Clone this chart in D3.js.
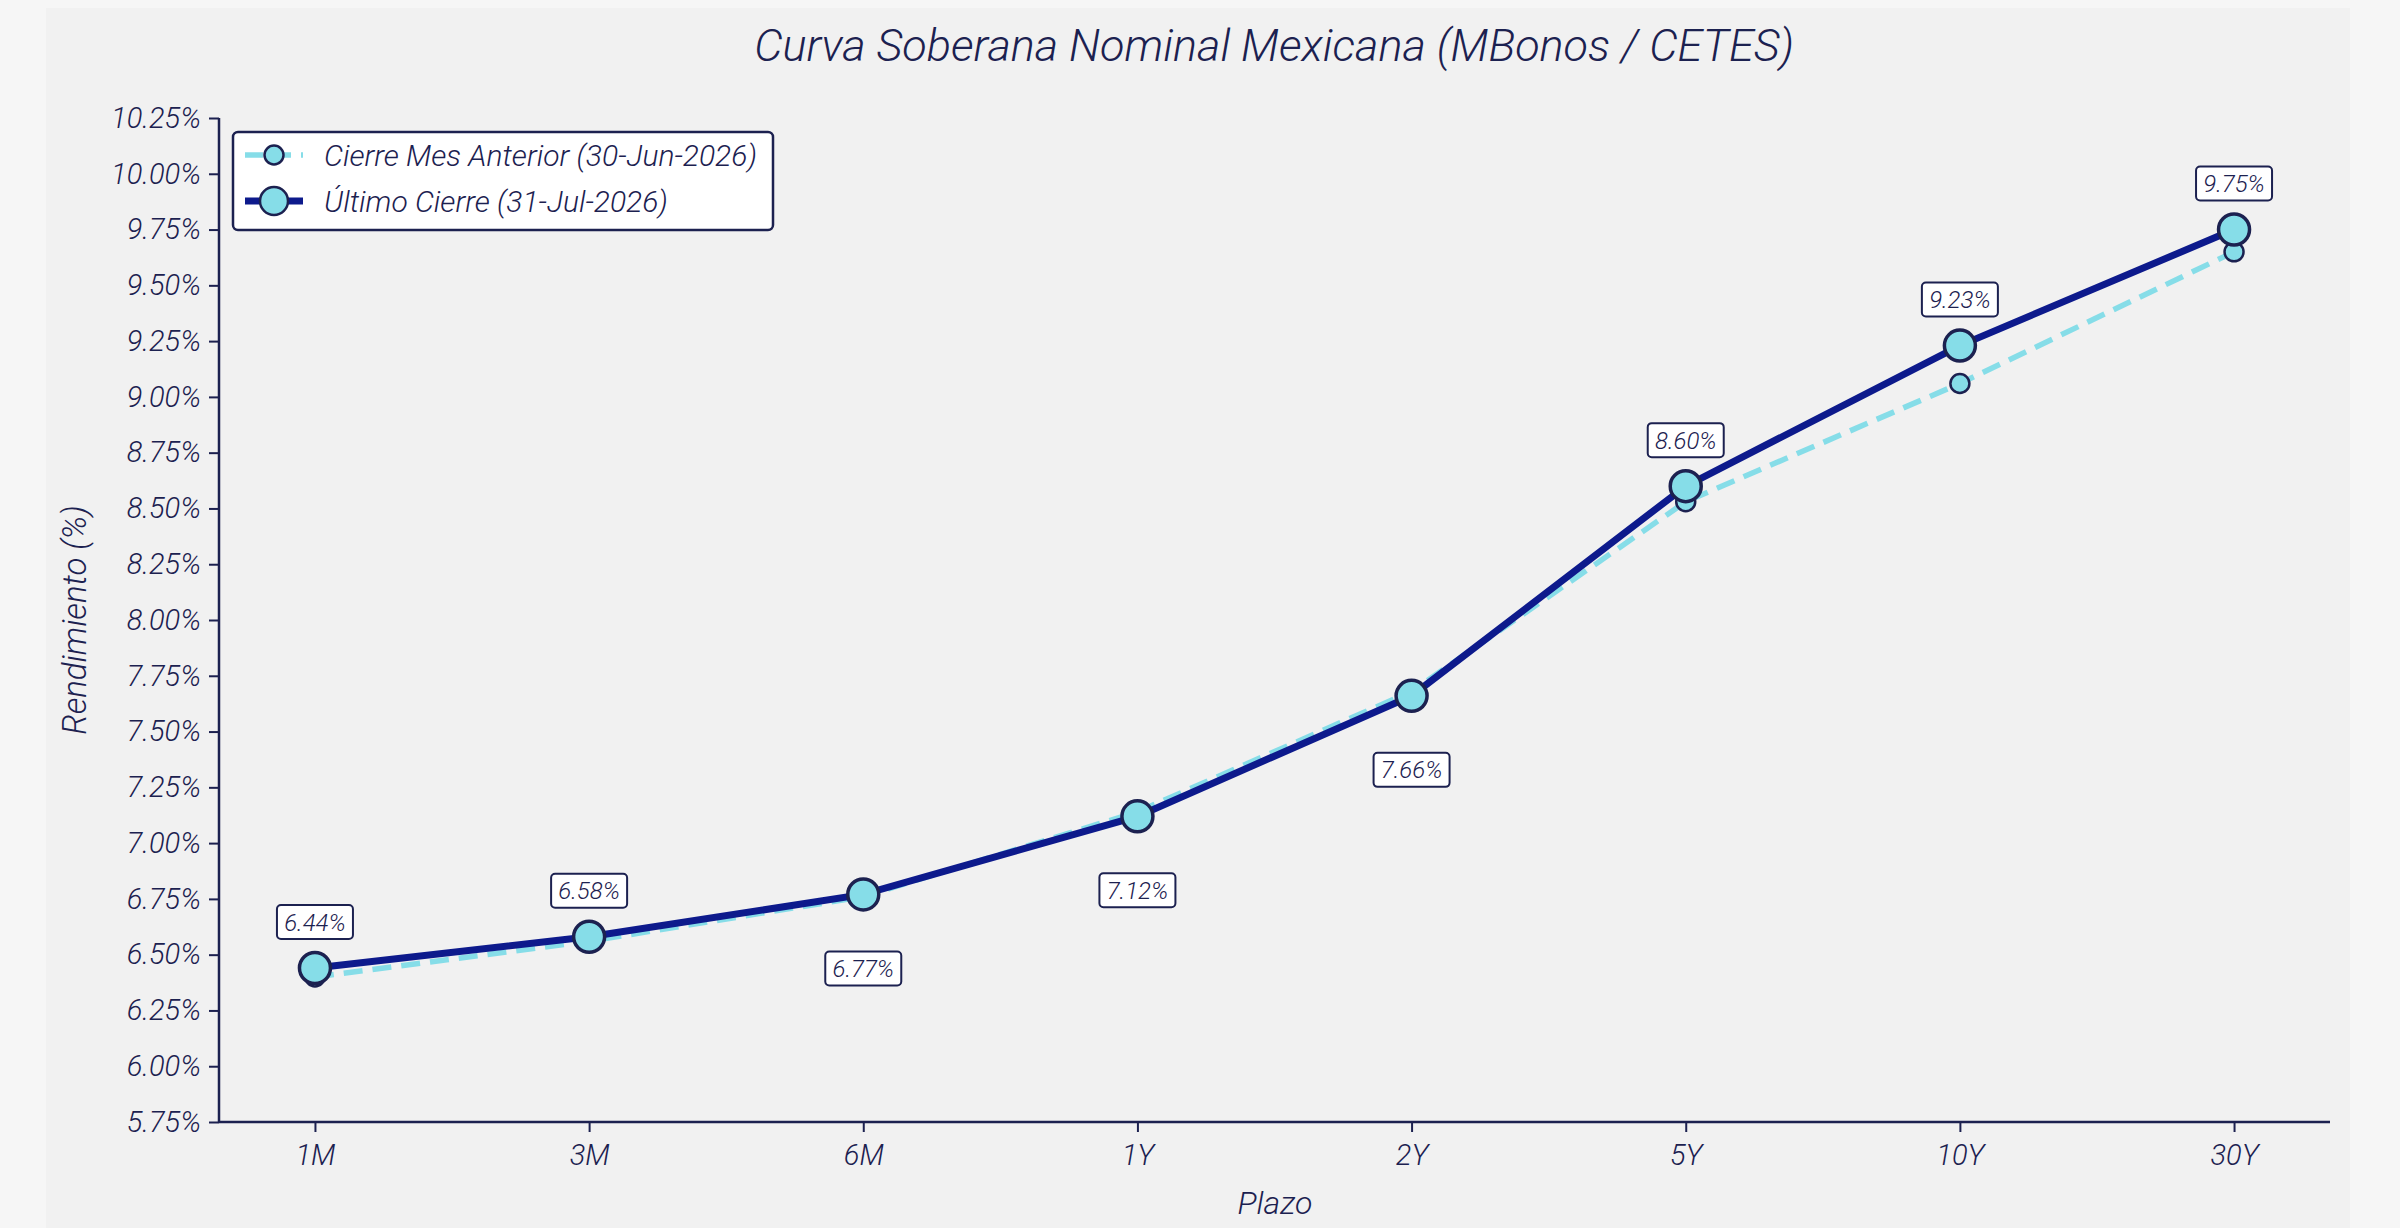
<!DOCTYPE html>
<html>
<head>
<meta charset="utf-8">
<script src="https://cdn.jsdelivr.net/npm/d3@7"></script>
<style>
  html, body { margin: 0; padding: 0; background: #f6f6f6; }
  svg { display: block; }
  text { font-family: Roboto, "Noto Sans", sans-serif; font-style: italic; font-weight: 300; fill: #1c2150; }
</style>
</head>
<body>
<svg id="chart"></svg>
<script>
const plazos = ["1M", "3M", "6M", "1Y", "2Y", "5Y", "10Y", "30Y"];
const cierreAnterior = [6.40, 6.56, 6.76, 7.14, 7.68, 8.53, 9.06, 9.65];
const ultimoCierre = [6.44, 6.58, 6.77, 7.12, 7.66, 8.60, 9.23, 9.75];
// above (-1) or below (+1) the marker
const labelSide = [-1, -1, 1, 1, 1, -1, -1, -1];
const yTicks = [5.75, 6.00, 6.25, 6.50, 6.75, 7.00, 7.25, 7.50, 7.75, 8.00, 8.25, 8.50, 8.75, 9.00, 9.25, 9.50, 9.75, 10.00, 10.25];

const width = 2400;
const height = 1228;
const navy = "#0d1a8c";
const ink = "#1c2150";
const cyan = "#86dde8";

const svg = d3.select("#chart").attr("width", width).attr("height", height);

// panel
svg.append("rect")
  .attr("x", 46).attr("y", 8)
  .attr("width", 2304).attr("height", height - 8)
  .attr("fill", "#f1f1f1");

const x = d3.scalePoint().domain(plazos).range([219, 2330]).padding(0.35);
const y = d3.scaleLinear().domain([5.75, 10.25]).range([1122, 118]);

// axes
const yAxis = svg.append("g")
  .attr("transform", "translate(219,0)")
  .call(d3.axisLeft(y).tickValues(yTicks).tickFormat(d => d.toFixed(2) + "%").tickSize(10).tickPadding(8));
const xAxis = svg.append("g")
  .attr("transform", "translate(0,1122)")
  .call(d3.axisBottom(x).tickSize(10).tickPadding(12));

[yAxis, xAxis].forEach(g => {
  g.select(".domain").attr("stroke", ink).attr("stroke-width", 2.5);
  g.selectAll(".tick line").attr("stroke", ink).attr("stroke-width", 2);
  g.selectAll(".tick text").attr("font-size", 29).attr("fill", ink)
    .style("font-family", "Roboto, sans-serif");
});
xAxis.select(".domain").attr("d", "M219,0H2330");
yAxis.select(".domain").attr("d", "M0,1122V118");

// titles
svg.append("text")
  .attr("x", 1274).attr("y", 61)
  .attr("text-anchor", "middle")
  .attr("font-size", 45)
  .text("Curva Soberana Nominal Mexicana (MBonos / CETES)");

svg.append("text")
  .attr("transform", "translate(86,620) rotate(-90)")
  .attr("text-anchor", "middle")
  .attr("font-size", 33)
  .text("Rendimiento (%)");

svg.append("text")
  .attr("x", 1275).attr("y", 1214)
  .attr("text-anchor", "middle")
  .attr("font-size", 32)
  .text("Plazo");

// lines
const line = (vals) => d3.line()
  .x((d, i) => x(plazos[i]))
  .y(d => y(d))(vals);

svg.append("path")
  .attr("d", line(cierreAnterior))
  .attr("fill", "none")
  .attr("stroke", cyan)
  .attr("stroke-width", 5.5)
  .attr("stroke-dasharray", "19,10");

svg.selectAll("circle.prev")
  .data(cierreAnterior)
  .join("circle")
  .attr("class", "prev")
  .attr("cx", (d, i) => x(plazos[i]))
  .attr("cy", d => y(d))
  .attr("r", 9.5)
  .attr("fill", cyan)
  .attr("stroke", ink)
  .attr("stroke-width", 2.5);

svg.append("path")
  .attr("d", line(ultimoCierre))
  .attr("fill", "none")
  .attr("stroke", navy)
  .attr("stroke-width", 7);

svg.selectAll("circle.last")
  .data(ultimoCierre)
  .join("circle")
  .attr("class", "last")
  .attr("cx", (d, i) => x(plazos[i]))
  .attr("cy", d => y(d))
  .attr("r", 15.5)
  .attr("fill", cyan)
  .attr("stroke", ink)
  .attr("stroke-width", 3.5);

// value labels
const labels = svg.selectAll("g.val")
  .data(ultimoCierre)
  .join("g")
  .attr("class", "val")
  .attr("transform", (d, i) => `translate(${x(plazos[i])},${y(d) + (labelSide[i] < 0 ? -46 : 74)})`);

labels.append("rect")
  .attr("x", -38).attr("y", -17)
  .attr("width", 76).attr("height", 34)
  .attr("rx", 4)
  .attr("fill", "#fff")
  .attr("stroke", ink)
  .attr("stroke-width", 2);

labels.append("text")
  .attr("text-anchor", "middle")
  .attr("dy", "0.36em")
  .attr("font-size", 24)
  .text(d => d.toFixed(2) + "%");

// legend
const legendData = [
  { label: "Cierre Mes Anterior (30-Jun-2026)", color: cyan, dash: "18,10", w: 5.5, r: 9.5 },
  { label: "Último Cierre (31-Jul-2026)", color: navy, dash: null, w: 7, r: 14 }
];

const legend = svg.append("g").attr("transform", "translate(233,132)");
legend.append("rect")
  .attr("width", 540).attr("height", 98)
  .attr("rx", 5)
  .attr("fill", "#fff")
  .attr("stroke", ink)
  .attr("stroke-width", 2.5);

const items = legend.selectAll("g.item")
  .data(legendData)
  .join("g")
  .attr("class", "item")
  .attr("transform", (d, i) => `translate(0,${23 + i * 46})`);

items.append("line")
  .attr("x1", 12).attr("x2", 70)
  .attr("stroke", d => d.color)
  .attr("stroke-width", d => d.w)
  .attr("stroke-dasharray", d => d.dash);

items.append("circle")
  .attr("cx", 41)
  .attr("r", d => d.r)
  .attr("fill", cyan)
  .attr("stroke", ink)
  .attr("stroke-width", 2.5);

items.append("text")
  .attr("x", 91)
  .attr("dy", "0.36em")
  .attr("font-size", 30)
  .text(d => d.label);
</script>
</body>
</html>
